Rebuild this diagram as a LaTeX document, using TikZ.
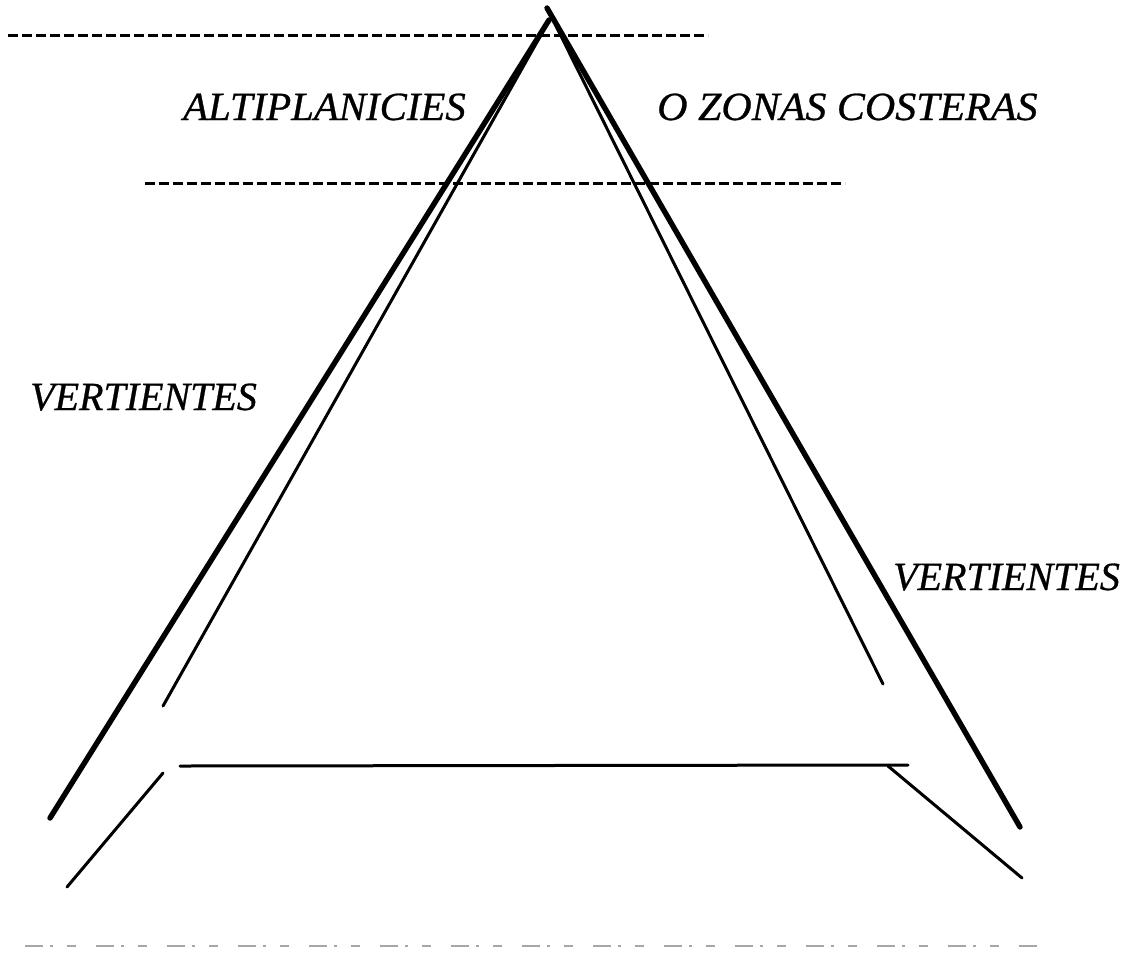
\documentclass[tikz,border=0pt]{standalone}
\usepackage{fontspec}
\setmainfont{Liberation Serif}
\newfontface\labelface{Liberation Serif Italic}[FakeBold=0.7]
\begin{document}
\begin{tikzpicture}[x=1pt,y=-1pt,
  thickline/.style={line width=5.4pt,line cap=round},
  thinline/.style={line width=3pt,line cap=round},
  guide/.style={line width=3pt,dash pattern=on 10pt off 4pt},
  noise/.style={line width=1.2pt,black!35,dash pattern=on 18pt off 7pt on 3pt off 14pt on 9pt off 20pt},
  label/.style={anchor=base west,inner sep=0pt,font=\fontsize{40}{40}\labelface}]
\useasboundingbox (0,0) rectangle (1121,962);
% coordinates
\coordinate (apexL) at (549,20);
\coordinate (apexLi) at (546,26);
\coordinate (apexR) at (547,8);
\coordinate (apexRi) at (556,26);
\coordinate (footL) at (50,818);
\coordinate (footLi) at (163,706);
\coordinate (footR) at (1020,827);
\coordinate (footRi) at (883,684);
\coordinate (baseL) at (180,766);
\coordinate (baseR) at (908,765);
\coordinate (kneeR) at (888,766);
\coordinate (endR) at (1022,878);
\coordinate (kneeL) at (163,773);
\coordinate (endL) at (67,887);
\coordinate (g1a) at (8,35);
\coordinate (g1b) at (708,35);
\coordinate (g2a) at (145,183);
\coordinate (g2b) at (845,183);
\coordinate (n1) at (25,946);
\coordinate (n2) at (1043,946);
% dashed guides
\draw[guide] (g1a) -- (g1b);
\draw[guide] (g2a) -- (g2b);
% slopes
\draw[thickline] (footL) -- (apexL);
\draw[thinline] (footLi) -- (apexLi);
\draw[thickline] (footR) -- (apexR);
\draw[thinline] (footRi) -- (apexRi);
% base
\draw[thinline] (baseL) -- (baseR);
\draw[thinline] (kneeR) -- (endR);
\draw[thinline] (kneeL) -- (endL);
% scan noise at bottom
\draw[noise] (n1) -- (n2);
% labels
\node[label,xscale=1.02] (alt) at (183,120) {ALTIPLANICIES};
\node[label,xscale=1.05] (zon) at (657,120) {O ZONAS COSTERAS};
\node[label] (vl) at (30,410) {VERTIENTES};
\node[label] (vr) at (893,590) {VERTIENTES};
\end{tikzpicture}
\end{document}
